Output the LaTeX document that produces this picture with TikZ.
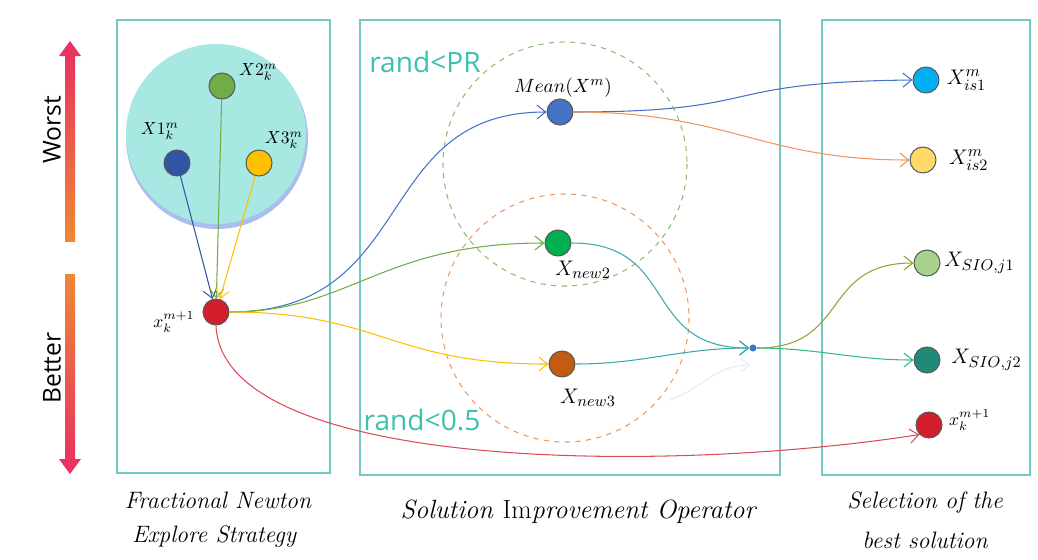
\documentclass[tikz,border=0pt]{standalone}
\usepackage{fontspec}
\newfontfamily\osans{Open Sans}
\usetikzlibrary{arrows.meta,positioning,calc}
\definecolor{boxline}{RGB}{115,200,195}
\definecolor{armpink}{RGB}{232,52,96}
\definecolor{armorange}{RGB}{238,136,52}
\definecolor{poolcyan}{RGB}{167,232,227}
\definecolor{poolshadow}{RGB}{170,190,238}
\definecolor{randc}{RGB}{60,192,176}
\definecolor{cblue}{RGB}{47,85,164}
\definecolor{cgreen}{RGB}{112,173,71}
\definecolor{cyellow}{RGB}{255,192,0}
\definecolor{cred}{RGB}{210,30,45}
\definecolor{cmean}{RGB}{68,114,196}
\definecolor{cnewtwo}{RGB}{0,176,80}
\definecolor{cnewthree}{RGB}{197,90,17}
\definecolor{cisone}{RGB}{0,176,240}
\definecolor{cistwo}{RGB}{255,217,102}
\definecolor{csioone}{RGB}{169,209,142}
\definecolor{csiotwo}{RGB}{31,138,122}
\definecolor{lorange}{RGB}{240,150,90}
\definecolor{lteal}{RGB}{60,170,170}

\begin{document}
\begin{tikzpicture}[x=0.02cm, y=-0.02cm, >={Straight Barb[length=5pt,width=8pt]},
  ball/.style={circle, draw=black!65, line width=0.6pt, minimum size=0.52cm, inner sep=0pt},
  tag/.style={font=\fontsize{10}{12}\selectfont, inner sep=1pt},
  bigtag/.style={font=\fontsize{13}{15}\selectfont, inner sep=1pt},
  caption/.style={font=\fontsize{13.5}{16}\selectfont\itshape, inner sep=1pt},
  rule/.style={font=\osans\fontsize{16}{18}\selectfont, text=randc, inner sep=1pt},
  side/.style={font=\osans\fontsize{14}{16}\selectfont, rotate=90, inner sep=1pt},
  boxframe/.style={draw=boxline, line width=0.8pt},
  link/.style={->, line width=0.6pt}]
  \useasboundingbox (0,0) rectangle (1038,559);

  % better / worst arrow
  \shade[top color=armpink, bottom color=armorange] (65,54) rectangle (75,241);
  \fill[armpink] (59,56) -- (70,41) -- (81,56) -- cycle;
  \shade[top color=armorange, bottom color=armpink] (65,274) rectangle (75,461);
  \fill[armpink] (59,459) -- (70,474) -- (81,459) -- cycle;
  \node[side] (worst) at (52,130) {Worst};
  \node[side] (better) at (52,368) {Better};

  % three stages
  \draw[boxframe] (117,20) rectangle (330,473);
  \draw[boxframe] (360,20) rectangle (780,475);
  \draw[boxframe] (822,20) rectangle (1030,475);

  % population pool
  \fill[poolshadow] (217,138) circle (91);
  \fill[poolcyan] (216,134) circle (90);

  % probability regions
  \draw[dashed, cgreen!80, line width=0.6pt] (565,164) circle (122);
  \draw[dashed, lorange, line width=0.6pt] (565,318) circle (124);
  \node[rule] (pr) at (425,62) {rand<PR};
  \node[rule] (half) at (422,420) {rand<0.5};

  % nodes
  \node[ball, fill=cblue] (x1) at (177,163) {};
  \node[ball, fill=cgreen] (x2) at (222,86) {};
  \node[ball, fill=cyellow] (x3) at (259,163) {};
  \node[ball, fill=cred] (xk) at (216,312) {};
  \node[ball, fill=cmean] (mean) at (560,112) {};
  \node[ball, fill=cnewtwo] (new2) at (558,243) {};
  \node[ball, fill=cnewthree] (new3) at (562,364) {};
  \node[circle, fill=cmean, minimum size=4pt, inner sep=0pt] (mix) at (753,348) {};
  \node[ball, fill=cisone] (is1) at (926,80) {};
  \node[ball, fill=cistwo] (is2) at (923,160) {};
  \node[ball, fill=csioone] (sio1) at (927,263) {};
  \node[ball, fill=csiotwo] (sio2) at (927,360) {};
  \node[ball, fill=cred] (xkr) at (929,425) {};

  % labels
  \node[tag] (x1l) at (160,131) {$X1_k^m$};
  \node[tag, anchor=west] (x2l) at (237,72) {$X2_k^m$};
  \node[tag] (x3l) at (284,140) {$X3_k^m$};
  \node[tag] (xkl) at (174,322) {$x_k^{m+1}$};
  \node[tag, font=\fontsize{11}{13}\selectfont] (meanl) at (563,88) {$Mean(X^m)$};
  \node[bigtag] (new2l) at (583,270) {$X_{new2}$};
  \node[bigtag] (new3l) at (588,398) {$X_{new3}$};
  \node[bigtag, right=3pt of is1] (is1l) {$X_{is1}^m$};
  \node[bigtag, right=6pt of is2] (is2l) {$X_{is2}^m$};
  \node[bigtag, right=1pt of sio1] (sio1l) {$X_{SIO,j1}$};
  \node[bigtag, right=5pt of sio2] (sio2l) {$X_{SIO,j2}$};
  \node[tag, anchor=west] (xkrl) at (947,420) {$x_k^{m+1}$};

  % connectors
  \draw[link, cblue] (x1) -- (xk);
  \draw[link, cgreen] (x2) -- (xk);
  \draw[link, cyellow] (x3) -- (xk);
  \draw[link, cmean] (xk.east) .. controls (420,312) and (370,112) .. (mean.west);
  \draw[link, cgreen] (xk.east) .. controls (350,312) and (380,243) .. (new2.west);
  \draw[link, cyellow] (xk.east) .. controls (380,312) and (390,364) .. (new3.west);
  \draw[link, cred!80] (xk.south) .. controls (222,470) and (660,475) .. (xkr.south west);
  \draw[link, cmean] (mean.east) .. controls (770,112) and (710,82) .. (is1.west);
  \draw[link, lorange] (mean.east) .. controls (730,112) and (760,160) .. (is2.west);
  \draw[link, lteal] (new2.east) .. controls (680,243) and (640,348) .. (mix.west);
  \draw[link, lteal] (new3.east) to[out=0, in=180] (mix.west);
  \draw[link, cgreen!70!orange] (mix.east) .. controls (850,348) and (820,263) .. (sio1.west);
  \draw[link, lteal!80!green] (mix.east) to[out=0, in=180] (sio2.west);
  \coordinate (ghosta) at (670,400);
  \coordinate (ghostb) at (750,365);
  \draw[link, cmean!15] (ghosta) to[out=20, in=180] (ghostb);

  % stage captions
  \node[caption] (cap1a) at (218,500) {Fractional Newton};
  \node[caption] (cap1b) at (214,537) {Explore Strategy};
  \node[caption, font=\fontsize{15}{18}\selectfont\itshape] (cap2) at (578,512) {Solution \textup{Im}provement Operator};
  \node[caption] (cap3a) at (925,503) {Selection of the};
  \node[caption] (cap3b) at (925,540) {best solution};
\end{tikzpicture}
\end{document}
